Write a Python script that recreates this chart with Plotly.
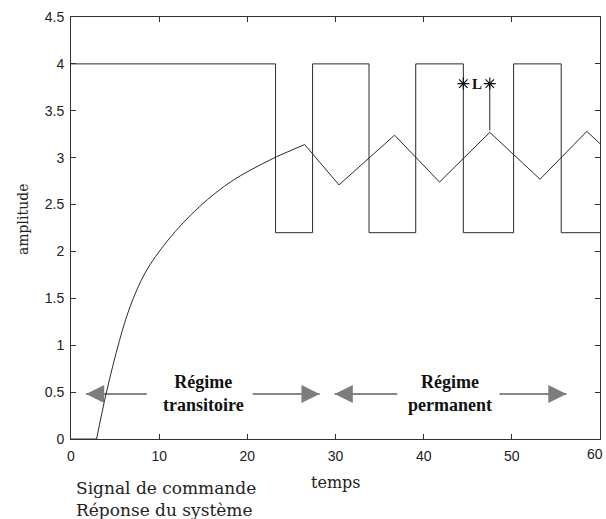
import plotly.graph_objects as go

# Square control signal: switching instants and levels (step shape)
cmd_t = [0, 23.2, 27.4, 33.8, 39.1, 44.5, 50.2, 55.6, 60]
cmd_y = [4, 2.2, 4, 2.2, 4, 2.2, 4, 2.2, 2.2]

# System response: transient part (smooth) then triangular steady oscillation
resp_t = [0, 2.9, 4.0, 5.5, 6.7, 8.4, 11.0, 14.6, 18.4, 23.3,
          26.5, 30.4, 36.7, 41.8, 47.5, 53.2, 58.5, 60]
resp_y = [0, 0, 0.49, 1.05, 1.41, 1.77, 2.12, 2.48, 2.76, 3.01,
          3.14, 2.71, 3.24, 2.74, 3.27, 2.77, 3.28, 3.15]

x_ticks = [0, 10, 20, 30, 40, 50, 60]
y_ticks = [0, 0.5, 1, 1.5, 2, 2.5, 3, 3.5, 4, 4.5]

# Regime arrows: (line start, tip) on level arrow_y
arrow_y = 0.48
arrows = [
    (8.6, 1.7),
    (20.6, 28.2),
    (37.0, 29.9),
    (48.6, 56.2),
]
regimes = [(15.0, "<b>Régime<br>transitoire</b>"), (43.0, "<b>Régime<br>permanent</b>")]

# Width marker L between the falling edge and the next response peak
L_t = [44.5, 47.5]
L_y = 3.79
L_peak = 3.29

LINE = "#2a2a2a"
TICKFONT = dict(family="Liberation Sans", size=14, color="#222")
SERIF = "DejaVu Serif"
fig = go.Figure()

fig.add_trace(go.Scatter(x=cmd_t, y=cmd_y, mode="lines", line_shape="hv",
                         line=dict(color=LINE, width=1), hoverinfo="skip"))
fig.add_trace(go.Scatter(x=resp_t[:2], y=resp_y[:2], mode="lines",
                         line=dict(color=LINE, width=1), hoverinfo="skip"))
fig.add_trace(go.Scatter(x=resp_t[1:10], y=resp_y[1:10], mode="lines",
                         line_shape="spline",
                         line=dict(color=LINE, width=1), hoverinfo="skip"))
fig.add_trace(go.Scatter(x=resp_t[9:], y=resp_y[9:], mode="lines",
                         line=dict(color=LINE, width=1), hoverinfo="skip"))

# Arrow shafts (black) with grey filled heads
for start, tip in arrows:
    fig.add_trace(go.Scatter(x=[start, tip], y=[arrow_y, arrow_y], mode="lines",
                             line=dict(color="#111", width=1.2), hoverinfo="skip"))
    back = tip + (1.2 if start > tip else -1.2)
    fig.add_annotation(x=tip, y=arrow_y, ax=back, ay=arrow_y,
                       xref="x", yref="y", axref="x", ayref="y", text="",
                       showarrow=True, arrowhead=2, arrowsize=2.8,
                       arrowwidth=1.3, arrowcolor="#7d7d7d")

for xc, label in regimes:
    fig.add_annotation(x=xc, y=arrow_y, text=label, showarrow=False,
                       font=dict(family="Liberation Serif", size=18, color="#111"),
                       xanchor="center", yanchor="middle")

# L marker
fig.add_trace(go.Scatter(x=[L_t[1], L_t[1]], y=[L_y, L_peak], mode="lines",
                         line=dict(color=LINE, width=1), hoverinfo="skip"))
fig.add_trace(go.Scatter(x=L_t, y=[L_y, L_y], mode="markers", hoverinfo="skip",
                         marker=dict(symbol="asterisk-open", size=10, color="#111",
                                     line=dict(color="#111", width=1.2))))
fig.add_annotation(x=(L_t[0] + L_t[1]) / 2, y=L_y, text="<b>L</b>", showarrow=False,
                   font=dict(family="Liberation Serif", size=15, color="#111"))

# Last x tick label, kept inside the page at its right edge
fig.add_annotation(x=x_ticks[-1], y=0, text=str(x_ticks[-1]), showarrow=False,
                   xanchor="right", xshift=5, yanchor="top", yshift=-5,
                   font=TICKFONT)

# Axis titles and caption
fig.add_annotation(x=-0.091, y=0.521, xref="paper", yref="paper", text="amplitude",
                   textangle=-90, showarrow=False, xanchor="center", yanchor="middle",
                   font=dict(family=SERIF, size=14, color="#222"))
fig.add_annotation(x=0.5, y=-0.103, xref="paper", yref="paper", text="temps",
                   showarrow=False, yanchor="middle",
                   font=dict(family=SERIF, size=16, color="#222"))
fig.add_annotation(x=0.006, y=-0.088, xref="paper", yref="paper",
                   text="Signal de commande<br>Réponse du système",
                   showarrow=False, xanchor="left", yanchor="top", align="left",
                   font=dict(family=SERIF, size=17, color="#222"))

axis_common = dict(showgrid=False, zeroline=False, showline=True, linecolor="#333",
                   linewidth=1, mirror="ticks", ticks="inside", ticklen=5,
                   tickcolor="#333", tickfont=TICKFONT)
fig.update_xaxes(range=[0, 60], tickvals=x_ticks[:-1], ticklabelstandoff=4,
                 **axis_common)
fig.update_yaxes(range=[0, 4.5], tickvals=y_ticks, ticklabelstandoff=3,
                 **axis_common)

fig.update_layout(width=606, height=519, showlegend=False,
                  margin=dict(l=71, r=6, t=17, b=80),
                  plot_bgcolor="white", paper_bgcolor="white")

fig.write_html("out.html")
